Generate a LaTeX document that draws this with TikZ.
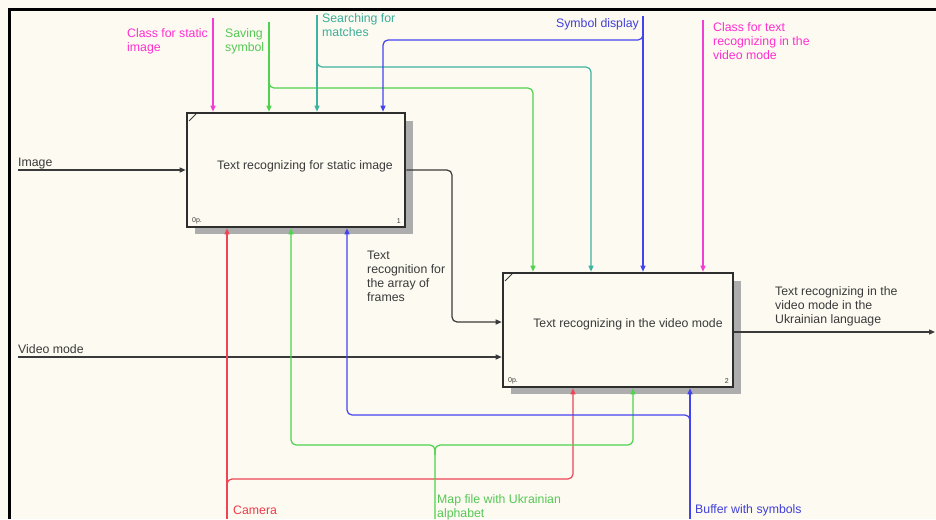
\documentclass[tikz,border=0pt]{standalone}
\usepackage{fontspec}
\setmainfont{Liberation Sans}
\usetikzlibrary{arrows.meta}
\definecolor{bg}{HTML}{FDFAF1}
\definecolor{ink}{HTML}{3A3A3A}
\definecolor{cmag}{HTML}{F23ED2}
\definecolor{cgreen}{HTML}{4FD24F}
\definecolor{cteal}{HTML}{3FB3A0}
\definecolor{cblue}{HTML}{4444EE}
\definecolor{cred}{HTML}{EE4455}
\definecolor{tmag}{HTML}{FF2FD0}
\definecolor{tgreen}{HTML}{55C855}
\definecolor{tteal}{HTML}{3AAE98}
\definecolor{tblue}{HTML}{4040D8}
\definecolor{tred}{HTML}{EE3A4A}
\tikzset{
  conn/.style={line width=1.2pt, rounded corners=5pt},
  arr/.style={conn, -{Triangle[length=6pt,width=5pt]}},
  idefbox/.style={draw=ink!80!black, line width=2.6pt, fill=bg, inner sep=0pt},
  shade/.style={fill=black!32},
  lbl/.style={inner sep=0pt, font=\fontsize{12.3}{14}\selectfont, align=left},
  tiny/.style={inner sep=0pt, font=\fontsize{7}{8}\selectfont, text=ink}
}
\begin{document}
\begin{tikzpicture}[x=1pt,y=-1pt]
\useasboundingbox (0,0) rectangle (936,519);
\fill[bg] (0,0) rectangle (936,519);
\draw[line width=3pt, black] (9,519) -- (9,10) -- (936,10);

% shadows
\fill[shade] (195,121) rectangle (413,234);
\fill[shade] (511,281) rectangle (741,394);

% boxes
\node[idefbox, minimum width=218pt, minimum height=114pt] (b1) at (296,170) {};
\node[idefbox, minimum width=230pt, minimum height=114pt] (b2) at (618,330) {};
\node[lbl, text=ink, anchor=center] (t1) at (305,166) {Text recognizing for static image};
\node[lbl, text=ink, anchor=center] (t2) at (628,324) {Text recognizing in the video mode};
\draw[ink, line width=0.8pt] (189,121) -- (196,114);
\draw[ink, line width=0.8pt] (505,281) -- (512,274);
\node[tiny, anchor=south west] (n1a) at (192,224) {0р.};
\node[tiny, anchor=south east] (n1b) at (401,224) {1};
\node[tiny, anchor=south west] (n2a) at (508,384) {0р.};
\node[tiny, anchor=south east] (n2b) at (729,384) {2};

% labels
\node[lbl, text=tmag, anchor=north west] (lcls1) at (127,28) {Class for static\\image};
\node[lbl, text=tgreen, anchor=north west] (lsave) at (225,28) {Saving\\symbol};
\node[lbl, text=tteal, anchor=north west] (lsearch) at (322,13) {Searching for\\matches};
\node[lbl, text=tblue, anchor=north east] (lsym) at (639,18) {Symbol display};
\node[lbl, text=tmag, anchor=north west] (lcls2) at (713,22) {Class for text\\recognizing in the\\video mode};
\node[lbl, text=ink, anchor=north west] (limg) at (18,158) {Image};
\node[lbl, text=ink, anchor=north west] (lvid) at (18,344) {Video mode};
\node[lbl, text=ink, anchor=north west] (lfr) at (367,251) {Text\\recognition for\\the array of\\frames};
\node[lbl, text=ink, anchor=north west] (lout) at (775,286) {Text recognizing in the\\video mode in the\\Ukrainian language};
\node[lbl, text=tred, anchor=north west] (lcam) at (233,506) {Camera};
\node[lbl, text=tgreen, anchor=north west] (lmap) at (437,494) {Map file with Ukrainian\\alphabet};
\node[lbl, text=tblue, anchor=north west] (lbuf) at (695,504) {Buffer with symbols};

% free ends
\coordinate (sImg) at (18,170);
\coordinate (sVid) at (18,357);
\coordinate (eOut) at (935,332);
\coordinate (sMag1) at (213,18);
\coordinate (sGrn) at (269,22);
\coordinate (sTeal) at (317,15);
\coordinate (sBlue) at (643,16);
\coordinate (sMag2) at (703,20);
\coordinate (sRed) at (227,519);
\coordinate (sGrnB) at (435,519);
\coordinate (sBlueB) at (690,519);

% inputs / outputs
\draw[arr, ink] (sImg) -- (b1.west);
\draw[arr, ink] (sVid) -- (sVid -| b2.west);
\draw[arr, ink] (b1.east) -- (452,170) -- (452,322) -- (b2.west |- 0,322);
\draw[arr, ink] (b2.east |- 0,332) -- (eOut);

% controls
\draw[arr, cmag] (sMag1) -- (213,0 |- b1.north);
\draw[arr, cgreen] (sGrn) -- (269,0 |- b1.north);
\draw[arr, cgreen] (269,78) -- (269,88) -- (533,88) -- (533,0 |- b2.north);
\draw[arr, cteal] (sTeal) -- (317,0 |- b1.north);
\draw[arr, cteal] (317,57) -- (317,67) -- (591,67) -- (591,0 |- b2.north);
\draw[arr, cblue] (sBlue) -- (643,0 |- b2.north);
\draw[arr, cblue] (643,30) -- (643,40) -- (383,40) -- (383,0 |- b1.north);
\draw[arr, cmag] (sMag2) -- (703,0 |- b2.north);

% mechanisms
\draw[arr, cred] (sRed) -- (227,0 |- b1.south);
\draw[arr, cred] (227,489) -- (227,479) -- (573,479) -- (573,0 |- b2.south);
\draw[arr, cgreen] (sGrnB) -- (435,445) -- (291,445) -- (291,0 |- b1.south);
\draw[arr, cgreen] (435,455) -- (435,445) -- (633,445) -- (633,0 |- b2.south);
\draw[arr, cblue] (sBlueB) -- (690,0 |- b2.south);
\draw[arr, cblue] (690,425) -- (690,415) -- (347,415) -- (347,0 |- b1.south);
\end{tikzpicture}
\end{document}
